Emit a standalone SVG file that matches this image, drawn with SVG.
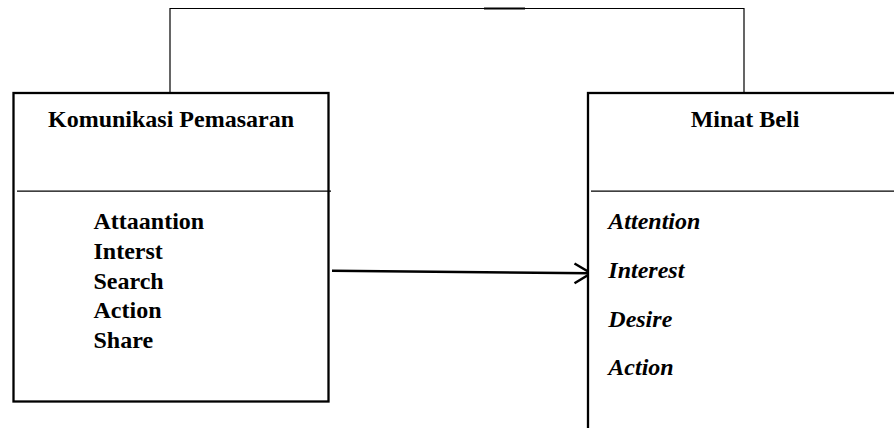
<svg xmlns="http://www.w3.org/2000/svg" width="894" height="428" viewBox="0 0 894 428">
<style>
.box{fill:#fff;stroke:#000;stroke-width:2.3}
.div{stroke:#000;stroke-width:1.3}
.conn{fill:none;stroke:#000}
.t{font-family:"Liberation Serif","Times New Roman",serif;font-weight:bold;font-size:24px;fill:#000}
.i{font-style:italic}
</style>
<rect width="894" height="428" fill="#fff"/>
<g id="connectors">
<polyline class="conn" stroke-width="1.2" points="170,93 170,8.5 744,8.5 744,93"/>
<line class="conn" stroke-width="1.8" x1="484" y1="8.5" x2="525" y2="8.5"/>
<line class="conn" stroke-width="2.5" x1="332" y1="270.7" x2="590" y2="273.2"/>
<polyline class="conn" stroke-width="2.5" points="574.5,263.5 591,273.2 574.5,283.3"/>
</g>
<g id="komunikasi-pemasaran">
<rect class="box" x="13.5" y="93" width="315" height="308.5"/>
<line class="div" x1="17" y1="191.2" x2="331" y2="191.2"/>
<text class="t" x="171" y="127" text-anchor="middle">Komunikasi Pemasaran</text>
<text class="t" x="93.5" y="229.3">Attaantion</text>
<text class="t" x="93.5" y="259">Interst</text>
<text class="t" x="93.5" y="288.5">Search</text>
<text class="t" x="93.5" y="318.3">Action</text>
<text class="t" x="93.5" y="347.7">Share</text>
</g>
<g id="minat-beli">
<rect class="box" x="588" y="93" width="320" height="345"/>
<line class="div" x1="591" y1="191.2" x2="894" y2="191.2"/>
<text class="t" x="745" y="127" text-anchor="middle">Minat Beli</text>
<text class="t i" x="608.3" y="229.3">Attention</text>
<text class="t i" x="608.3" y="278.3">Interest</text>
<text class="t i" x="608.3" y="326.7">Desire</text>
<text class="t i" x="608.3" y="375">Action</text>
</g>
</svg>
